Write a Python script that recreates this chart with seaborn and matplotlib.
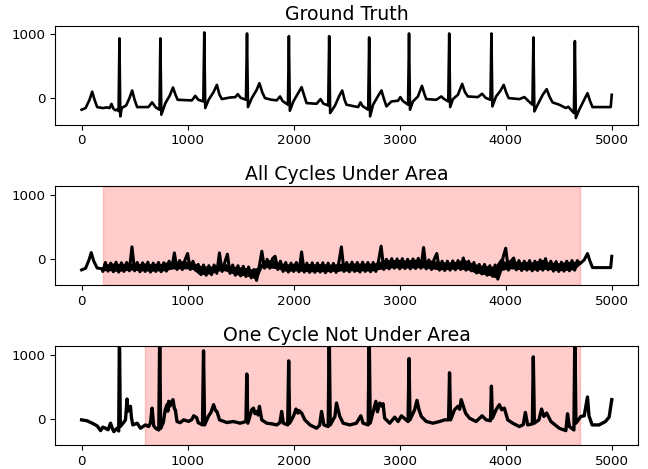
import numpy as np
import matplotlib
matplotlib.use("Agg")
import matplotlib.pyplot as plt
import seaborn as sns

# Ground truth ECG trace (sample index, amplitude)
gt_x = [0, 38, 75, 100, 122, 147, 200, 240, 265, 282, 300, 320, 340, 349, 357, 365, 378, 420, 450, 477,
        500, 524, 630, 665, 700, 735, 743, 752, 790, 830, 862, 885, 906, 1040, 1072, 1100, 1148, 1157, 1166, 1198,
        1245, 1276, 1300, 1323, 1400, 1450, 1473, 1500, 1550, 1560, 1569, 1605, 1650, 1677, 1705, 1730, 1790, 1840, 1872, 1895,
        1946, 1955, 1964, 1997, 2045, 2075, 2100, 2122, 2216, 2254, 2280, 2326, 2335, 2344, 2389, 2430, 2458, 2480, 2498, 2608,
        2630, 2650, 2703, 2712, 2721, 2749, 2800, 2828, 2850, 2875, 2922, 2984, 3006, 3030, 3079, 3088, 3097, 3125, 3172, 3210,
        3235, 3251, 3345, 3392, 3420, 3458, 3467, 3476, 3502, 3549, 3589, 3615, 3643, 3737, 3777, 3810, 3856, 3865, 3874, 3909,
        3950, 3981, 4005, 4028, 4129, 4176, 4220, 4252, 4261, 4270, 4301, 4350, 4386, 4415, 4442, 4505, 4567, 4590, 4643, 4652,
        4661, 4693, 4740, 4771, 4795, 4818, 4990, 5000]
gt_y = [-176, -150, -20, 105, -20, -135, -150, -140, -150, -85, -160, -185, -170, -200, 938, -280, -150, -110, 0, 124,
        -20, -135, -135, -62, -140, -176, 938, -254, -73, 40, 171, 60, -21, -31, 41, -20, -47, 1031, -150, -21,
        100, 212, 60, -10, 15, 20, 67, 10, -21, 1015, -135, 5, 130, 238, 90, 5, -20, -30, 31, -40,
        -98, 974, -192, -47, 90, 176, 40, -73, -83, -10, -80, -110, 974, -228, -114, 40, 124, -20, -98, -135,
        -62, -120, -176, 953, -280, -98, 50, 124, 0, -124, -47, -36, 21, -40, -98, 1015, -176, -47, 31, 197,
        60, -10, -21, 31, -10, -47, 1015, -135, -10, 57, 228, 100, 31, 21, 73, 10, -21, 1015, -124, 31,
        120, 212, 90, 5, -10, 21, -50, -98, 953, -202, -98, 60, 145, 20, -62, -98, -150, -130, -228, 896,
        -306, -176, -20, 83, -40, -135, -135, 57]

# All cycles under area: clean ends plus a noisy middle section (every 25 samples)
mid_start_x = [0, 38, 70, 91, 115, 147, 194]
mid_start_y = [-176, -150, -20, 95, -40, -147, -158]
mid_noise_y = [
    -200, -60, -195, -70, -205, -55, -210, -65, -200, -60,
    -190, 184, -190, -60, -205, -65, -200, -55, -210, -70,
    -200, -60, -205, -65, -195, -40, -150, 90, -170, -30,
    -170, -20, 80, -170, -40, -180, -90, -250, -100, -260,
    -110, -250, -100, -230, 90, -200, -60, 70, -230, -100,
    -260, -110, -270, -120, -280, -130, -300, -170, -340, -130,
    115, -150, -10, -150, 0, 37, -170, -40, -200, -60,
    -210, -70, -200, -60, -205, 105, -210, -70, -215, -65,
    -215, -70, -210, -65, -220, -70, -205, -75, -215, -70,
    184, -200, -60, -205, -55, -200, -60, -210, -55, -200,
    -60, -205, -60, -200, -40, 195, -170, -10, -160, 0,
    -150, -5, -160, 0, -155, -10, -160, -5, -155, 5,
    -150, 174, -160, -20, -170, -10, 80, -180, -40, -185,
    -40, -180, -35, -175, -30, -170, 10, -180, -40, -190,
    -60, -225, -90, -240, -90, -260, -110, -275, -100, -320,
    -200, 20, 163, -180, -40, 10, -175, -30, -185, -40,
    -180, -30, -190, -40, -185, -20, -180, 0, -175, -40,
    -195, -45, -200, -55, -195, -40, -190, -30, -180, -30,
    -80]
# lower / upper edge of the dense noise band (every 50 samples)
mid_band_lo = [
    -190, -185, -195, -200, -190, -180, -180, -195, -190, -200,
    -190, -195, -185, -160, -160, -160, -160, -170, -240, -250,
    -240, -220, -190, -190, -220, -250, -260, -270, -290, -330,
    -140, -140, -150, -160, -190, -200, -190, -195, -200, -205,
    -205, -200, -210, -195, -205, -190, -195, -190, -200, -190,
    -195, -190, -170, -160, -150, -140, -150, -145, -150, -145,
    -140, -150, -160, -170, -175, -170, -165, -160, -170, -180,
    -215, -230, -250, -265, -300, -190, -170, -160, -165, -175,
    -170, -180, -175, -170, -165, -185, -190, -185, -180, -170,
    -90]
mid_band_hi = [
    -70, -80, -65, -75, -70, -70, -70, -75, -65, -80,
    -70, -75, -50, -60, -40, -30, -40, -50, -100, -110,
    -120, -110, -80, -70, -110, -120, -130, -140, -160, -140,
    -60, -20, -10, -50, -70, -80, -70, -75, -80, -75,
    -80, -75, -80, -85, -80, -70, -70, -65, -70, -65,
    -70, -70, -50, -20, -10, -15, -10, -20, -15, -5,
    -20, -30, -20, -40, -50, -50, -45, -40, 0, -50,
    -70, -100, -100, -120, -110, 10, -50, 0, -40, -50,
    -40, -50, -30, -10, -50, -55, -65, -50, -40, -40,
    -70]
mid_end_x = [4740, 4771, 4795, 4818, 4990, 5000]
mid_end_y = [-20, 80, -40, -140, -140, 37]

# One cycle not under area
bot_x = [0, 50, 100, 147, 179, 200, 226, 250, 273, 290, 304, 335, 350, 357, 365, 395, 414, 429, 437, 445,
         461, 470, 483, 524, 555, 602, 633, 650, 665, 680, 700, 728, 737, 745, 770, 790, 806, 814, 821, 835,
         845, 862, 875, 884, 900, 930, 962, 1010, 1040, 1057, 1085, 1100, 1140, 1150, 1160, 1198, 1220, 1245, 1262, 1276,
         1301, 1340, 1370, 1430, 1495, 1550, 1558, 1568, 1605, 1621, 1635, 1652, 1665, 1677, 1699, 1746, 1800, 1840, 1870, 1887,
         1903, 1944, 1953, 1962, 1997, 2022, 2040, 2050, 2075, 2105, 2154, 2216, 2245, 2263, 2285, 2326, 2335, 2345, 2389, 2404,
         2420, 2435, 2467, 2530, 2592, 2633, 2655, 2703, 2712, 2722, 2775, 2790, 2812, 2830, 2843, 2858, 2906, 2953, 2985, 3016,
         3079, 3088, 3097, 3141, 3163, 3182, 3204, 3251, 3314, 3375, 3423, 3461, 3470, 3480, 3517, 3549, 3565, 3580, 3600, 3621,
         3658, 3721, 3777, 3815, 3856, 3865, 3874, 3909, 3940, 3962, 3987, 4019, 4066, 4129, 4165, 4185, 4207, 4251, 4260, 4270,
         4313, 4338, 4360, 4386, 4426, 4505, 4567, 4583, 4600, 4643, 4652, 4662, 4708, 4740, 4771, 4785, 4815, 4880, 4940, 4975,
         5000]
bot_y = [-16, -30, -68, -110, -184, -130, -147, -170, -68, -150, -200, -147, -190, 1400, -120, -60, -16, 310, 120, 142,
         195, 20, -95, -68, -147, -95, -120, -60, 168, -110, -150, -174, 1400, -150, -60, 150, 221, 120, 274, 200,
         260, 300, 160, 142, -42, -60, -16, -40, -10, 47, 20, -60, -95, 1062, -95, 47, 100, 221, 130, 116,
         -16, -40, -58, -42, -68, -42, 700, -68, 142, 168, 80, 116, 60, 195, -16, -68, -80, -95, -60, 116,
         -68, -95, 905, -68, 37, 153, 90, 130, 90, -16, -95, -147, -100, 116, -95, -120, 1400, -95, 37, 247,
         142, 37, -68, -95, -68, 47, -68, -95, 1400, -68, 274, 110, 247, 200, 237, 10, -68, 26, -42, 47,
         -42, 941, -16, 142, 289, 142, 37, -42, -68, -42, -16, -16, 720, -16, 142, 195, 150, 300, 195, 90,
         10, -42, 47, -16, -30, 510, 10, 142, 221, 142, 168, -16, -68, -121, -90, 100, -95, -80, 968, -68,
         -16, 153, 37, 90, -42, -147, -184, 79, -120, -174, 1400, -68, 37, 47, 342, 47, -95, -95, -42, 26,
         300]

mid_span = (200, 4700)
bot_span = (600, 4700)

mid_noise_x = np.arange(mid_span[0], mid_span[1] + 1, 25)
mid_band_x = np.arange(mid_span[0], mid_span[1] + 1, 50)
mid_x = np.concatenate([mid_start_x, mid_noise_x, mid_end_x])
mid_y = np.concatenate([mid_start_y, mid_noise_y, mid_end_y])

fig, axes = plt.subplots(3, 1, figsize=(6.48, 4.69), dpi=100)
fig.subplots_adjust(left=0.085, right=0.985, top=0.945, bottom=0.051, hspace=0.62)

panels = [
    ("Ground Truth", gt_x, gt_y, None, 1.9),
    ("All Cycles Under Area", mid_x, mid_y, mid_span, 2.2),
    ("One Cycle Not Under Area", bot_x, bot_y, bot_span, 2.4),
]

for ax, (title, xs, ys, span, lw) in zip(axes, panels):
    if span is not None:
        ax.axvspan(span[0], span[1], color="red", alpha=0.2, lw=1)
    sns.lineplot(x=xs, y=ys, ax=ax, color="black", lw=lw,
                 estimator=None, sort=False)
    ax.set_title(title, fontsize=13.6, pad=4)
    ax.set_xlim(-250, 5250)
    ax.set_ylim(-410, 1135)
    ax.set_yticks([0, 1000])
    ax.set_xticks(range(0, 5001, 1000))
    ax.tick_params(labelsize=9.6)

# the dense noise in the middle panel reads as a solid black band
axes[1].fill_between(mid_band_x, mid_band_lo, mid_band_hi, color="black", lw=0)

plt.savefig("out.png", dpi=100)
